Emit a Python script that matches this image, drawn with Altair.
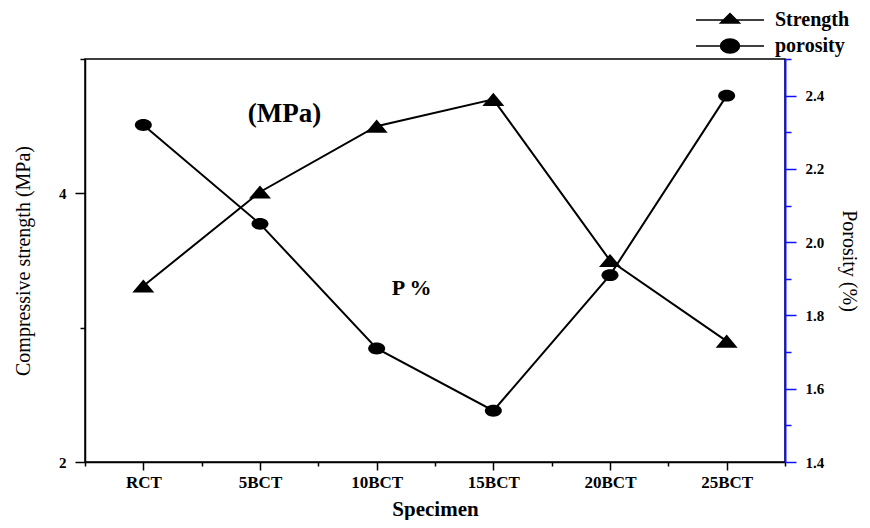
import json
import altair as alt
import pandas as pd

# ---- data ----
specimens = ["RCT", "5BCT", "10BCT", "15BCT", "20BCT", "25BCT"]
strength = [3.31, 4.01, 4.50, 4.70, 3.50, 2.90]       # MPa (left axis)
porosity = [2.32, 2.05, 1.71, 1.54, 1.91, 2.40]       # % (right axis)
series_names = ["Strength", "porosity"]

ann_text = ["(MPa)", "P %"]
ann_x = [1.21, 2.3]
ann_y = [4.53, 3.24]
ann_size = [27, 22]

left_ticks = [2, 3, 4, 5]
right_ticks = [round(1.4 + 0.1 * i, 1) for i in range(12)]
x_ticks = [i / 2 - 0.5 for i in range(2 * len(specimens) + 1)]

df = pd.DataFrame({"idx": list(range(len(specimens))), "specimen": specimens,
                   "strength": strength, "porosity": porosity})
ann = pd.DataFrame({"text": ann_text, "x": ann_x, "y": ann_y, "size": ann_size})

FONT = "Liberation Serif"
BLUE = "#1010ff"

TRI_PLOT = "M-1,0.6L0,-0.6L1,0.6Z"
ELL_PLOT = "M-1,0A1,0.7,0,1,0,1,0A1,0.7,0,1,0,-1,0Z"
TRI_LEG = "M-3.4,0H3.4M-0.95,0.3L0,-0.65L0.95,0.3Z"
ELL_LEG = "M-3.4,0H3.4M-0.95,0A0.95,0.7,0,1,0,0.95,0A0.95,0.7,0,1,0,-0.95,0Z"

x_enc = alt.X(
    "idx:Q",
    scale=alt.Scale(domain=[-0.5, len(specimens) - 0.5], nice=False, zero=False),
    axis=alt.Axis(
        values=x_ticks,
        labelExpr=f"datum.value % 1 === 0 ? {json.dumps(specimens)}[datum.value] : ''",
        tickSize={"condition": {"test": "datum.value % 1 === 0", "value": 8}, "value": 4},
        title="Specimen", titleFontWeight="bold", titleFontSize=21,
        labelFontSize=17, labelPadding=4, titlePadding=8,
        grid=False, domainColor="black", tickColor="black", domainWidth=1.5, tickWidth=1.5,
    ),
)

y_left = alt.Y(
    "strength:Q",
    scale=alt.Scale(domain=[2, 5], nice=False, zero=False),
    axis=alt.Axis(
        values=left_ticks,
        format="d",
        labelExpr="datum.value % 2 === 0 ? datum.label : ''",
        tickSize={"condition": {"test": "datum.value % 2 === 0", "value": 10}, "value": 5},
        title="Compressive strength (MPa)", titleFontWeight="normal", titleFontSize=20,
        labelFontSize=15, labelPadding=9, titlePadding=25,
        grid=False, domainColor="black", tickColor="black", domainWidth=1.5, tickWidth=1.5,
    ),
)

y_right = alt.Y(
    "porosity:Q",
    scale=alt.Scale(domain=[1.4, 2.5], nice=False, zero=False),
    axis=alt.Axis(
        orient="right",
        values=right_ticks,
        labelExpr="round(datum.value * 10) % 2 === 0 ? format(datum.value, '.1f') : ''",
        tickSize={"condition": {"test": "round(datum.value * 10) % 2 === 0", "value": 11}, "value": 6},
        title="Porosity (%)", titleFontWeight="normal", titleFontSize=20,
        labelFontSize=15, labelPadding=9, titlePadding=15,
        grid=False, domainColor=BLUE, tickColor=BLUE, domainWidth=2, tickWidth=1.5,
    ),
)

shape_scale = alt.Scale(domain=series_names, range=[TRI_LEG, ELL_LEG])
legend = alt.Legend(
    orient="none", legendX=634, legendY=-50, title=None,
    symbolSize=400, labelFont=FONT, labelFontSize=20, labelFontWeight="bold",
    labelOffset=34, rowPadding=5, padding=0, labelColor="black",
)
shape_enc = alt.Shape("series:N", scale=shape_scale, legend=legend)

base = alt.Chart(df).encode(x=x_enc)

s_line = base.mark_line(color="black", strokeWidth=2).encode(y=y_left)
s_pts = base.mark_point(shape=TRI_PLOT, filled=True, color="black", opacity=1, size=484).encode(y=y_left)
s_leg = base.transform_calculate(series=json.dumps(series_names[0])).mark_point(
    filled=True, fill="black", stroke="black", strokeWidth=2, opacity=1, size=0).encode(y=y_left, shape=shape_enc)
s_txt = alt.Chart(ann).mark_text(font=FONT, fontWeight="bold", color="black", baseline="alphabetic").encode(
    x=alt.X("x:Q"), y=alt.Y("y:Q"), text="text:N", size=alt.Size("size:Q", scale=None, legend=None))

p_line = base.mark_line(color="black", strokeWidth=2).encode(y=y_right)
p_pts = base.mark_point(shape=ELL_PLOT, filled=True, color="black", opacity=1, size=289).encode(y=y_right)
p_leg = base.transform_calculate(series=json.dumps(series_names[1])).mark_point(
    filled=True, fill="black", stroke="black", strokeWidth=2, opacity=1, size=0).encode(y=y_right, shape=shape_enc)

left = alt.layer(s_line, s_pts, s_leg, s_txt)
right = alt.layer(p_line, p_pts, p_leg)

chart = (
    alt.layer(left, right)
    .resolve_scale(y="independent")
    .properties(width=700, height=403, background="white",
                autosize=alt.AutoSizeParams(type="none"),
                padding={"left": 77, "top": 51, "right": 77, "bottom": 58})
    .configure_view(stroke="black", strokeWidth=1.5)
    .configure_axis(labelFont=FONT, titleFont=FONT, labelFontWeight="bold",
                    labelColor="black", titleColor="black")
)

chart.save("out.html", embed_options={"renderer": "svg", "actions": False})
